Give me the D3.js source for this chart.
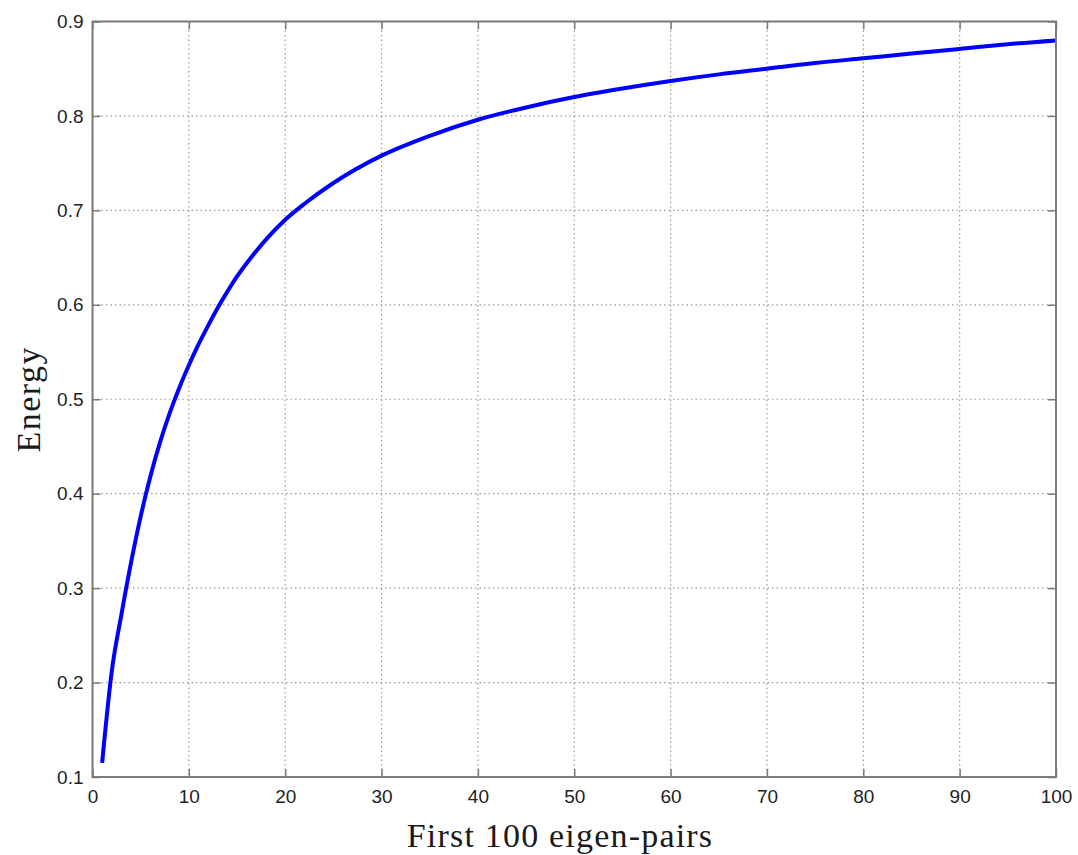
<!DOCTYPE html>
<html>
<head>
<meta charset="utf-8">
<script src="https://cdn.jsdelivr.net/npm/d3@7"></script>
<style>
  html, body { margin: 0; padding: 0; background: #ffffff; }
  svg { display: block; }
</style>
</head>
<body>
<svg id="chart" width="1078" height="855"></svg>
<script>
// Cumulative energy captured by the leading eigen-pairs
const pairIndex = [1, 2, 3, 4, 5, 6, 7, 8, 9, 10, 11, 12, 13, 14, 15, 16, 18, 20, 22, 25, 30, 35, 40, 45, 50, 55, 60, 65, 70, 75, 80, 85, 90, 95, 100];
const energy = [0.115, 0.212, 0.272, 0.327, 0.376, 0.418, 0.454, 0.485, 0.512, 0.536, 0.558, 0.578, 0.597, 0.614, 0.630, 0.644, 0.669, 0.690, 0.707, 0.729, 0.758, 0.779, 0.796, 0.809, 0.820, 0.829, 0.837, 0.844, 0.850, 0.856, 0.861, 0.866, 0.871, 0.876, 0.880];

const xTicks = [0, 10, 20, 30, 40, 50, 60, 70, 80, 90, 100];
const yTicks = [0.1, 0.2, 0.3, 0.4, 0.5, 0.6, 0.7, 0.8, 0.9];

const xLabel = "First 100 eigen-pairs";
const yLabel = "Energy";

const W = 1078, H = 855;
const margin = { top: 21.5, right: 22, bottom: 78, left: 92.5 };
const iw = W - margin.left - margin.right;
const ih = H - margin.top - margin.bottom;

const svg = d3.select("#chart");
const g = svg.append("g").attr("transform", `translate(${margin.left},${margin.top})`);

const x = d3.scaleLinear().domain([0, 100]).range([0, iw]);
const y = d3.scaleLinear().domain([0.1, 0.9]).range([ih, 0]);

const gridColor = "#9a9a9a";
const axisColor = "#7a7a7a";
const tickLen = 8;

// dotted grid
g.append("g").selectAll("line").data(xTicks.slice(1, -1)).join("line")
  .attr("x1", d => x(d)).attr("x2", d => x(d))
  .attr("y1", 0).attr("y2", ih)
  .attr("stroke", gridColor).attr("stroke-width", 1.2)
  .attr("stroke-dasharray", "1.5,3");
g.append("g").selectAll("line").data(yTicks.slice(1, -1)).join("line")
  .attr("x1", 0).attr("x2", iw)
  .attr("y1", d => y(d)).attr("y2", d => y(d))
  .attr("stroke", gridColor).attr("stroke-width", 1.2)
  .attr("stroke-dasharray", "1.5,3");

// energy curve
const line = d3.line()
  .x((d, i) => x(pairIndex[i]))
  .y(d => y(d))
  .curve(d3.curveMonotoneX);
g.append("path")
  .datum(energy)
  .attr("d", line)
  .attr("fill", "none")
  .attr("stroke", "#0000ff")
  .attr("stroke-width", 4)
  .attr("stroke-linejoin", "round");

// axes with inward ticks on all four sides
function styleAxis(sel) {
  sel.select(".domain").remove();
  sel.selectAll(".tick line").attr("stroke", axisColor).attr("stroke-width", 1.5);
  sel.selectAll(".tick text")
    .attr("fill", "#222")
    .style("font-family", "'Liberation Sans', Arial, sans-serif")
    .style("font-size", "19px");
}

const xAxisB = d3.axisBottom(x).tickValues(xTicks).tickSize(-tickLen).tickPadding(13).tickFormat(d3.format("d"));
const xAxisT = d3.axisTop(x).tickValues(xTicks).tickSize(-tickLen).tickFormat("");
const yAxisL = d3.axisLeft(y).tickValues(yTicks).tickSize(-tickLen).tickPadding(9).tickFormat(d3.format(".1f"));
const yAxisR = d3.axisRight(y).tickValues(yTicks).tickSize(-tickLen).tickFormat("");

g.append("g").attr("transform", `translate(0,${ih})`).call(xAxisB).call(styleAxis);
g.append("g").call(xAxisT).call(styleAxis);
g.append("g").call(yAxisL).call(styleAxis);
g.append("g").attr("transform", `translate(${iw},0)`).call(yAxisR).call(styleAxis);

// frame
g.append("rect")
  .attr("x", 0).attr("y", 0).attr("width", iw).attr("height", ih)
  .attr("fill", "none").attr("stroke", axisColor).attr("stroke-width", 2);

// axis titles
svg.append("text")
  .attr("x", 560).attr("y", 847)
  .attr("text-anchor", "middle")
  .attr("fill", "#1a1a1a")
  .style("font-family", "'Liberation Serif', 'Times New Roman', serif")
  .style("font-size", "34px")
  .style("letter-spacing", "1.2px")
  .text(xLabel);

svg.append("text")
  .attr("transform", `translate(40,${margin.top + ih / 2}) rotate(-90)`)
  .attr("text-anchor", "middle")
  .attr("fill", "#1a1a1a")
  .style("font-family", "'Liberation Serif', 'Times New Roman', serif")
  .style("font-size", "34px")
  .style("letter-spacing", "1.5px")
  .text(yLabel);
</script>
</body>
</html>
